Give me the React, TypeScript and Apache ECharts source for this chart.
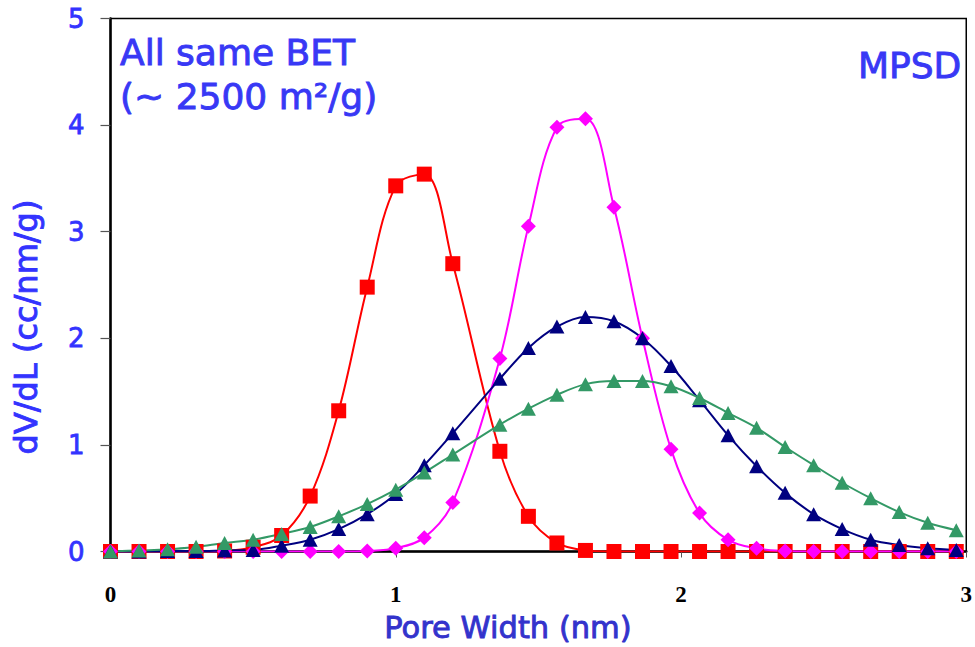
import React, { useEffect, useRef } from "react";
import * as echarts from "echarts";

const poreWidth = [0, 0.1, 0.2, 0.3, 0.4, 0.5, 0.6, 0.7, 0.8, 0.9, 1.0, 1.1, 1.2, 1.365, 1.465, 1.565, 1.665, 1.765, 1.865, 1.965, 2.065, 2.165, 2.265, 2.365, 2.465, 2.565, 2.665, 2.765, 2.865, 2.965];
const redSquares = [0, 0, 0, 0, 0.005, 0.04, 0.15, 0.52, 1.32, 2.48, 3.43, 3.54, 2.7, 0.94, 0.33, 0.08, 0.01, 0, 0, 0, 0, 0, 0, 0, 0, 0, 0, 0, 0, 0];
const pinkDiamonds = [0, 0, 0, 0, 0, 0, 0, 0, 0, 0.005, 0.03, 0.13, 0.46, 1.81, 3.05, 3.98, 4.06, 3.23, 2.0, 0.96, 0.36, 0.11, 0.03, 0.005, 0, 0, 0, 0, 0, 0];
const navyTriangles = [0, 0, 0.005, 0.005, 0.01, 0.015, 0.055, 0.11, 0.21, 0.35, 0.54, 0.81, 1.11, 1.62, 1.91, 2.11, 2.2, 2.16, 2.0, 1.74, 1.42, 1.09, 0.8, 0.55, 0.35, 0.21, 0.11, 0.06, 0.03, 0.015];
const greenTriangles = [0, 0.01, 0.02, 0.045, 0.08, 0.11, 0.165, 0.23, 0.33, 0.445, 0.58, 0.74, 0.91, 1.19, 1.34, 1.47, 1.57, 1.6, 1.6, 1.55, 1.44, 1.3, 1.16, 0.98, 0.81, 0.645, 0.5, 0.37, 0.27, 0.2];

const xTicks = ["0", "1", "2", "3"];
const yTicks = ["0", "1", "2", "3", "4", "5"];

const FONT = "DejaVu Sans";

function pairs(ys: number[]) {
  return poreWidth.map((x, i) => [x, ys[i]]);
}

function label(text: string, x: number, y: number, size: number, color: string, extra: any = {}) {
  return {
    type: "text",
    x,
    y,
    ...extra,
    style: {
      text,
      font: `${size}px "${FONT}"`,
      fill: color,
      stroke: color,
      lineWidth: 0.9,
      verticalAlign: "middle",
      align: extra.align || "left",
    },
  };
}

export default function App() {
  const ref = useRef<HTMLDivElement>(null);
  useEffect(() => {
    if (!ref.current) return;
    const chart = echarts.init(ref.current, null, { renderer: "svg" });
    const mk = (name: string, ys: number[], color: string, symbol: string, size: any) => ({
      name,
      type: "line",
      data: pairs(ys),
      smooth: 0.35,
      symbol,
      symbolSize: size,
      showSymbol: true,
      lineStyle: { color, width: 2 },
      itemStyle: { color, borderWidth: 0 },
      emphasis: { disabled: true },
    });
    const titleBlue = "#3838F5";
    chart.setOption({
      animation: false,
      grid: {
        left: 110.5,
        top: 18.5,
        right: 0.5,
        bottom: 95.5,
        show: true,
        borderColor: "#000",
        borderWidth: 1.5,
        backgroundColor: "transparent",
      },
      xAxis: {
        type: "value",
        min: 0,
        max: 3,
        interval: 1,
        splitLine: { show: false },
        axisLine: { show: true, onZero: false, lineStyle: { color: "#000", width: 2.5 } },
        axisTick: { show: true, inside: false, length: 6, lineStyle: { color: "#555", width: 1 } },
        axisLabel: {
          margin: 31,
          fontFamily: "Liberation Serif",
          fontWeight: "bold",
          fontSize: 23,
          color: "#000",
          formatter: (v: number) => xTicks[Math.round(v)] ?? "",
        },
      },
      yAxis: {
        type: "value",
        min: 0,
        max: 5,
        interval: 1,
        splitLine: { show: false },
        axisLine: { show: true, lineStyle: { color: "#000", width: 2.5 } },
        axisTick: { show: true, inside: false, length: 10, lineStyle: { color: "#555", width: 1.2 } },
        axisLabel: {
          margin: 26,
          fontFamily: FONT,
          fontSize: 26,
          color: "#3333FF",
          textBorderColor: "#3333FF",
          textBorderWidth: 0.8,
          formatter: (v: number) => yTicks[Math.round(v)] ?? "",
        },
      },
      graphic: [
        label("All same BET", 120, 52, 36, titleBlue),
        label("(~ 2500 m²/g)", 120, 96, 36, titleBlue),
        label("MPSD", 858, 65, 36, titleBlue),
        label("Pore Width (nm)", 508, 627.5, 30.5, "#3333CC", { align: "center" }),
        label("dV/dL (cc/nm/g)", 26, 327, 32, "#3333FF", { align: "center", rotation: Math.PI / 2 }),
      ],
      series: [
        mk("Red", redSquares, "#FF0000", "rect", 15),
        mk("Magenta", pinkDiamonds, "#FF00FF", "diamond", 15),
        mk("Navy", navyTriangles, "#000080", "triangle", [15, 14]),
        mk("Green", greenTriangles, "#339966", "triangle", [15, 14]),
      ],
    });
    return () => chart.dispose();
  }, []);
  return (
    <div
      ref={ref}
      style={{ position: "fixed", left: 0, top: 0, width: 975, height: 647, background: "#fff" }}
    />
  );
}
